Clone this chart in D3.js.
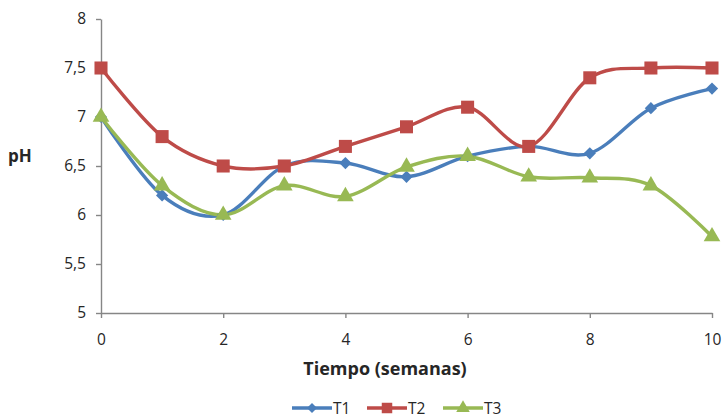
<!DOCTYPE html>
<html>
<head>
<meta charset="utf-8">
<script src="https://cdn.jsdelivr.net/npm/d3@7"></script>
<style>
  body { margin: 0; background: #fff; }
  svg text { font-family: "Open Sans", "Liberation Sans", sans-serif; fill: #262626; }
</style>
</head>
<body>
<svg id="chart" width="725" height="419"></svg>
<script>
// pH over time for three treatments
const weeks = [0, 1, 2, 3, 4, 5, 6, 7, 8, 9, 10];
const t1 = [7.0, 6.2, 6.0, 6.5, 6.53, 6.39, 6.6, 6.7, 6.63, 7.09, 7.29];
const t2 = [7.5, 6.8, 6.5, 6.5, 6.7, 6.9, 7.1, 6.7, 7.4, 7.5, 7.5];
const t3 = [7.0, 6.3, 6.0, 6.3, 6.19, 6.49, 6.6, 6.39, 6.38, 6.3, 5.78];
const xTicks = [0, 2, 4, 6, 8, 10];
const yTicks = [5, 5.5, 6, 6.5, 7, 7.5, 8];
const seriesNames = ["T1", "T2", "T3"];
const seriesColors = ["#4a7ebb", "#be4b48", "#98b954"];
// diamonds are squares turned by 45 degrees
const seriesShapes = [d3.symbolSquare, d3.symbolSquare, d3.symbolTriangle];
const seriesRotate = [45, 0, 0];

const svg = d3.select("#chart");
const x = d3.scaleLinear().domain([0, 10]).range([101, 712]);
const y = d3.scaleLinear().domain([5, 8]).range([313, 19]);
const fmt = d => String(d).replace(".", ",");

// axes
const axisColor = "#868686";
const xAxis = svg.append("g").attr("transform", `translate(0,${y(5)})`)
  .call(d3.axisBottom(x).tickValues(xTicks).tickSize(5).tickSizeOuter(0).tickFormat(fmt));
const yAxis = svg.append("g").attr("transform", `translate(${x(0)},0)`)
  .call(d3.axisLeft(y).tickValues(yTicks).tickSize(5).tickSizeOuter(0).tickFormat(fmt));
[xAxis, yAxis].forEach(g => {
  g.select(".domain").attr("stroke", axisColor).attr("stroke-width", 1.4);
  g.selectAll(".tick line").attr("stroke", axisColor).attr("stroke-width", 1.4);
  g.selectAll(".tick text").style("font-size", "15.5px").attr("fill", "#262626");
});
xAxis.selectAll(".tick text").attr("y", 8).attr("dy", "1.55em");
yAxis.selectAll(".tick text").attr("x", -15);

// axis titles
svg.append("text").attr("x", 8).attr("y", 162)
  .style("font-size", "17px").style("font-weight", "bold").text("pH");
svg.append("text").attr("x", 385).attr("y", 375).attr("text-anchor", "middle")
  .style("font-size", "18px").style("font-weight", "bold").text("Tiempo (semanas)");

// smoothed lines and markers
const allSeries = [t1, t2, t3];
const line = d3.line().x((d, i) => x(weeks[i])).y(d => y(d)).curve(d3.curveCardinal.tension(0));
const markerSize = [75, 170, 120];
allSeries.forEach((vals, s) => {
  svg.append("path").datum(vals).attr("d", line)
    .attr("fill", "none").attr("stroke", seriesColors[s]).attr("stroke-width", 3.4);
});
allSeries.forEach((vals, s) => {
  svg.append("g").selectAll("path").data(vals).join("path")
    .attr("transform", (d, i) => `translate(${x(weeks[i])},${y(d)}) rotate(${seriesRotate[s]})`)
    .attr("d", d3.symbol().type(seriesShapes[s]).size(markerSize[s]))
    .attr("fill", seriesColors[s]);
});

// legend
const legendX = [292, 367, 443];
const legendSize = [50, 110, 80];
seriesNames.forEach((name, s) => {
  const g = svg.append("g").attr("transform", `translate(${legendX[s]},408)`);
  g.append("line").attr("x1", 0).attr("x2", 40).attr("y1", 0).attr("y2", 0)
    .attr("stroke", seriesColors[s]).attr("stroke-width", 3.4);
  g.append("path").attr("transform", `translate(20,0) rotate(${seriesRotate[s]})`)
    .attr("d", d3.symbol().type(seriesShapes[s]).size(legendSize[s]))
    .attr("fill", seriesColors[s]);
  g.append("text").attr("x", 41).attr("y", 6).style("font-size", "15.5px").text(name);
});
</script>
</body>
</html>
